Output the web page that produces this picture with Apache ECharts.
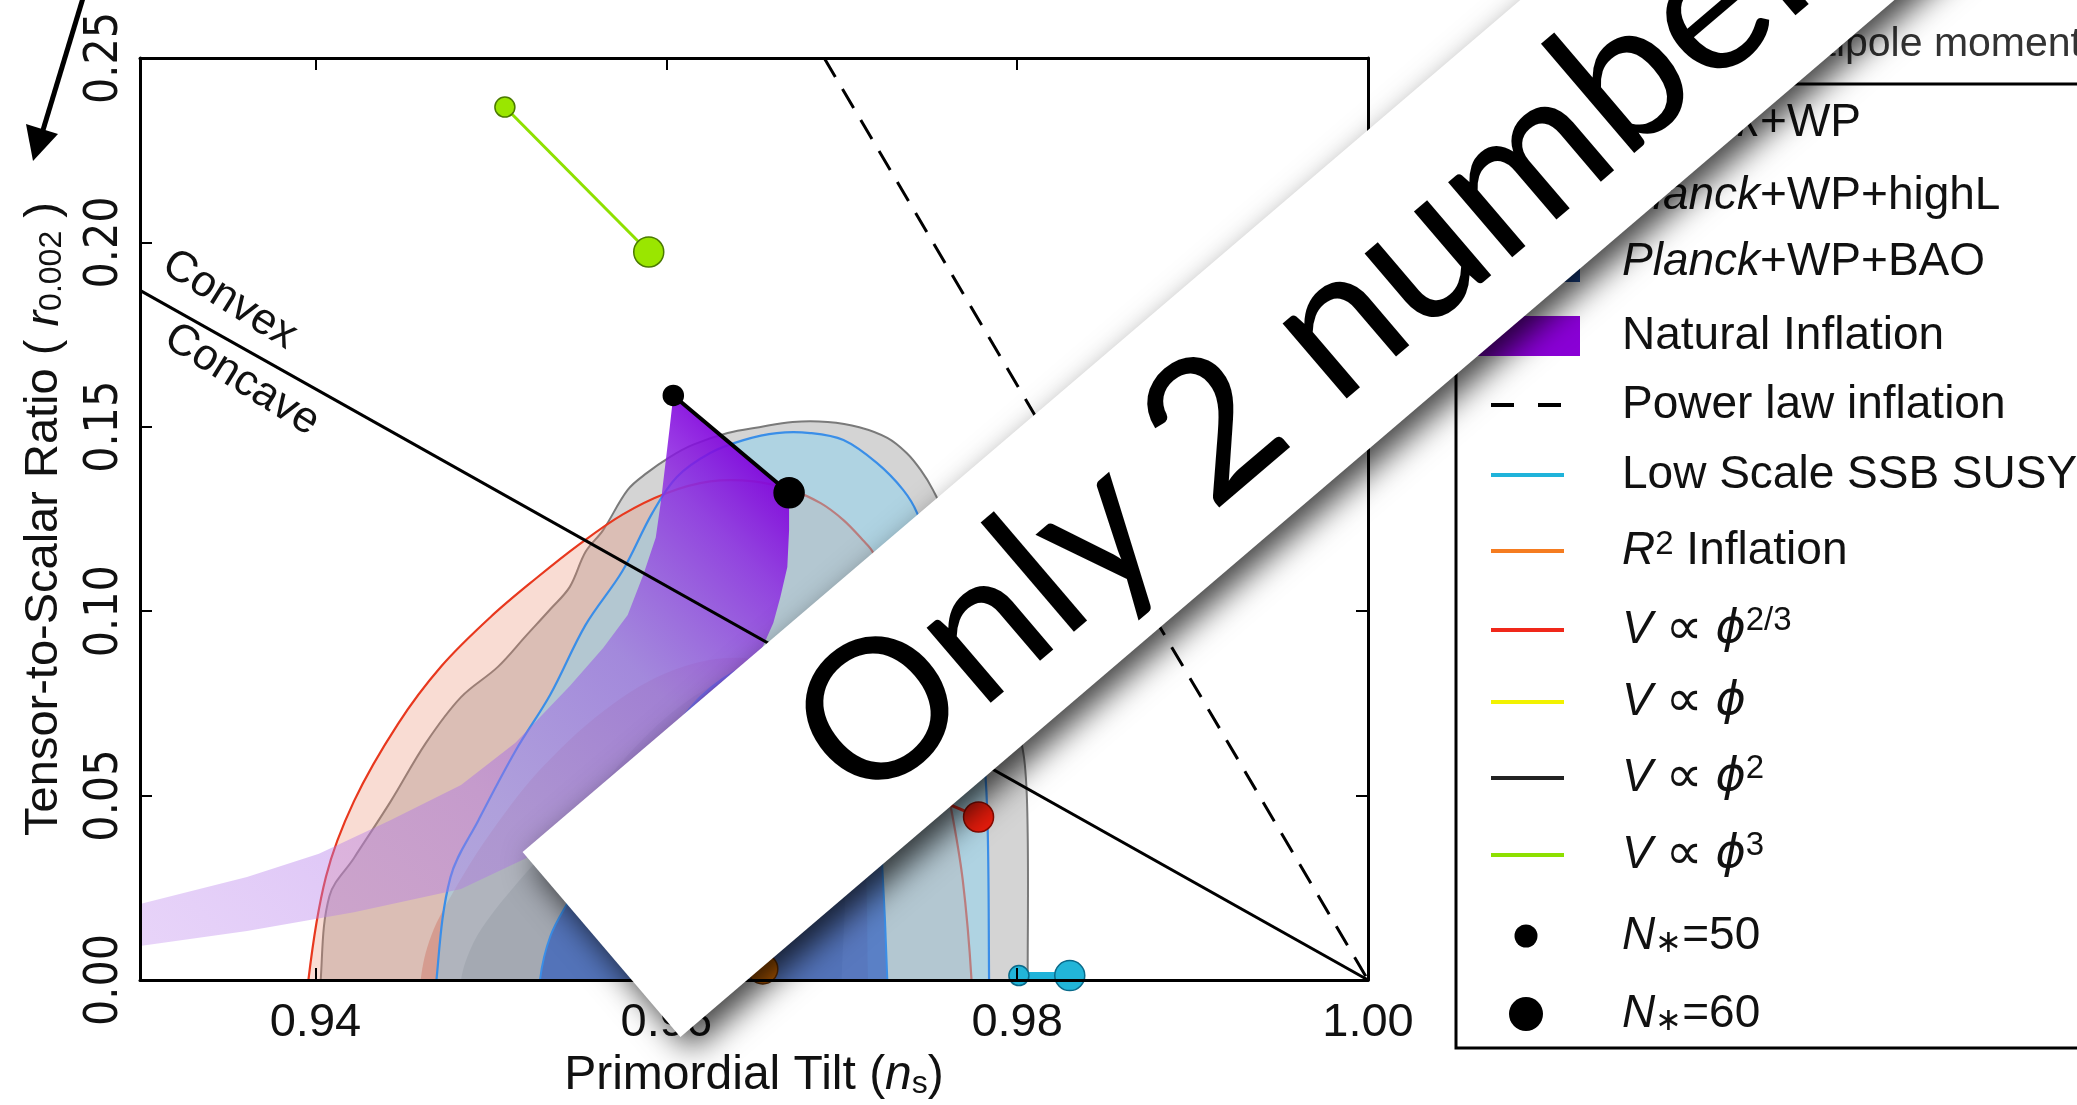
<!DOCTYPE html>
<html><head><meta charset="utf-8">
<script src="https://cdn.jsdelivr.net/npm/echarts@6/dist/echarts.min.js"></script>
<style>html,body{margin:0;padding:0;background:#fff;overflow:hidden}#c{width:2077px;height:1105px}</style>
</head><body><div id="c"></div>
<script>
// ---------------- data ----------------
const xTicks = [0.94, 0.96, 0.98, 1.00];
const yTicks = [0.00, 0.05, 0.10, 0.15, 0.20, 0.25];

// Planck+WP (grey) 95% / 68%
const planckWP95 = [[0.9403,0],[0.9408,0.0228],[0.9422,0.0331],[0.9443,0.0485],[0.9463,0.0643],[0.9483,0.0767],[0.9504,0.0849],[0.9520,0.0933],[0.9534,0.1006],[0.9545,0.1066],[0.9554,0.1161],[0.9564,0.1220],[0.9578,0.1329],[0.9589,0.1375],[0.9602,0.1418],[0.9615,0.1451],[0.9635,0.1483],[0.9653,0.1499],[0.9672,0.1513],[0.9692,0.1513],[0.9710,0.1499],[0.9726,0.1470],[0.9737,0.1429],[0.9745,0.1383],[0.9752,0.1329],[0.9770,0.1150],[0.9785,0.0950],[0.9797,0.0750],[0.9804,0.0600],[0.9806,0.0400],[0.9806,0]];
const planckWP68 = [[0.9483,0],[0.9490,0.0100],[0.9500,0.0175],[0.9520,0.0290],[0.9550,0.0450],[0.9580,0.0620],[0.9610,0.0750],[0.9640,0.0820],[0.9670,0.0800],[0.9690,0.0700],[0.9700,0.0500],[0.9702,0.0250],[0.9700,0]];
// Planck+WP+highL (red) 95% / 68%
const highL95 = [[0.9396,0],[0.9406,0.0280],[0.9422,0.0485],[0.9447,0.0694],[0.9472,0.0852],[0.9500,0.0985],[0.9526,0.1090],[0.9550,0.1180],[0.9575,0.1262],[0.9600,0.1320],[0.9625,0.1352],[0.9650,0.1352],[0.9671,0.1329],[0.9688,0.1293],[0.9701,0.1247],[0.9712,0.1193],[0.9718,0.1158],[0.9735,0.0950],[0.9750,0.0750],[0.9762,0.0474],[0.9769,0.0271],[0.9774,0]];
const highL68 = [[0.9460,0],[0.9466,0.0120],[0.9480,0.0250],[0.9500,0.0400],[0.9530,0.0580],[0.9570,0.0750],[0.9610,0.0850],[0.9650,0.0870],[0.9680,0.0800],[0.9700,0.0650],[0.9712,0.0400],[0.9715,0]];
// Planck+WP+BAO (blue) 95% / 68%
const bao95 = [[0.9469,0],[0.9477,0.0279],[0.9493,0.0434],[0.9514,0.0621],[0.9534,0.0775],[0.9554,0.0963],[0.9575,0.1109],[0.9592,0.1266],[0.9606,0.1364],[0.9625,0.1429],[0.9644,0.1464],[0.9663,0.1483],[0.9682,0.1483],[0.9701,0.1464],[0.9720,0.1402],[0.9735,0.1329],[0.9743,0.1266],[0.9760,0.1050],[0.9772,0.0850],[0.9780,0.0650],[0.9783,0.0450],[0.9784,0]];
const bao68 = [[0.9528,0],[0.9534,0.0120],[0.9545,0.0220],[0.9560,0.0350],[0.9580,0.0500],[0.9600,0.0650],[0.9620,0.0770],[0.9645,0.0850],[0.9670,0.0870],[0.9690,0.0820],[0.9710,0.0700],[0.9720,0.0500],[0.9723,0.0320],[0.9726,0]];

// Natural inflation band: N*=50 edge (left to tip) and N*=60 edge (tip to left)
const naturalN50 = [[0.9300,0.0206],[0.9361,0.0279],[0.9402,0.0342],[0.9443,0.0434],[0.9483,0.0529],[0.9514,0.0643],[0.9545,0.0797],[0.9564,0.0900],[0.9578,0.0990],[0.9587,0.1100],[0.9594,0.1200],[0.9597,0.1300],[0.9600,0.1420],[0.9602,0.1500],[0.9604,0.1585]];
const naturalN60 = [[0.9670,0.1321],[0.9670,0.1220],[0.9669,0.1120],[0.9665,0.1038],[0.9661,0.0968],[0.9650,0.0850],[0.9630,0.0720],[0.9600,0.0580],[0.9560,0.0440],[0.9520,0.0330],[0.9483,0.0247],[0.9422,0.0184],[0.9361,0.0133],[0.9300,0.0092]];

const powerLaw   = [[0.9690,0.25],[1.00,0]];
const convexLine = [[0.93,0.187],[1.00,0]];

// models: [N*=50, N*=60]
const phi3   = [[0.9508,0.2367],[0.9590,0.1974]];
const phi2   = [[0.9604,0.1585],[0.9670,0.1321]];
const phi1   = [[0.9700,0.0800],[0.9750,0.0667]];
const phi23  = [[0.9733,0.0533],[0.9778,0.0442]];
const r2Infl = [[0.9600,0.0045],[0.9655,0.0030]];
const susy   = [[0.9801,0.0012],[0.9830,0.0012]];

const convexLabel  = {text:'Convex',  at:[0.9351,0.1844]};
const concaveLabel = {text:'Concave', at:[0.9358,0.1627]};

const legendLabels = ['{i|Planck}+WP','{i|Planck}+WP+highL','{i|Planck}+WP+BAO','Natural Inflation','Power law inflation','Low Scale SSB SUSY','{i|R}{sup|2} Inflation','{i|V} {m|∝} {p|ϕ}{sup|2/3}','{i|V} {m|∝} {p|ϕ}','{i|V} {m|∝} {p|ϕ}{sup|2}','{i|V} {m|∝} {p|ϕ}{sup|3}','{i|N}{sub|∗}=50','{i|N}{sub|∗}=60'];
const legendKinds  = ['patch','patch','patch','patch','dash','line','line','line','line','line','line','dotS','dotL'];

// ---------------- styles / layout ----------------
const FONT = "'Liberation Sans', Arial, sans-serif";
const NARROW = "'Liberation Sans Narrow', 'DejaVu Sans Condensed', 'Liberation Sans', sans-serif";
const legendColors = ['#b4b4b4','#ee9a80','#1f4c9c','#8a00d6','#000','#1fb3da','#f57c20','#f0281a','#f2f200','#222','#8ee000','#000','#000'];
const LEG_Y = [123,196,262,336,405,475,551,630,702,778,855,936,1014];

function poly(name, pts, fill, stroke, lw, z, smooth) {
  let P = pts;
  if (smooth) P = [[pts[0][0], -0.012]].concat(pts, [[pts[pts.length-1][0], -0.012]]);
  return {type:'custom', name, coordinateSystem:'cartesian2d', z, silent:true, clip:true, animation:false,
    data:[pts[0]],
    renderItem:(params, api) => ({type:'polygon', shape:{points: P.map(p => api.coord(p)), smooth: smooth || 0},
      style:{fill, stroke: stroke || null, lineWidth: lw || 0}})
  };
}
function model(name, pts, lineColor, fill, border, lw) {
  return {type:'line', name, data: pts, z: 10, silent:true, animation:false,
    lineStyle:{color: lineColor, width: lw}, symbol:'circle', showSymbol:true,
    symbolSize:(v, p) => p.dataIndex === 0 ? 20 : 30,
    itemStyle:{color: fill, borderColor: border, borderWidth: 1.5}};
}
function label(obj) {
  return {type:'custom', coordinateSystem:'cartesian2d', z: 11, silent:true, animation:false,
    data:[obj.at],
    renderItem:(params, api) => { const c = api.coord(obj.at); return {type:'text', x:c[0], y:c[1], rotation:-32*Math.PI/180,
      style:{text: obj.text, fontSize: 44, fontFamily: FONT, fill:'#111', align:'center', verticalAlign:'middle'}}; }
  };
}

const naturalPoly = naturalN50.concat(naturalN60);
const purpleFill = {type:'linear', x:0, y:1, x2:0.85, y2:0, global:false, colorStops:[
  {offset:0, color:'rgba(190,135,238,0.36)'},
  {offset:0.45, color:'rgba(170,112,232,0.45)'},
  {offset:0.7, color:'rgba(150,88,228,0.56)'},
  {offset:0.9, color:'rgba(138,35,226,0.80)'},
  {offset:1, color:'rgba(128,0,220,0.92)'}]};

const series = [
  poly('Planck+WP 95', planckWP95, 'rgba(128,128,128,0.34)', '#7a7a7a', 2, 1, 0.35),
  poly('Planck+WP 68', planckWP68, 'rgba(70,70,85,0.30)', null, 0, 2, 0.35),
  poly('highL 95', highL95, 'rgba(235,140,110,0.30)', '#e8381e', 2.2, 3, 0.35),
  poly('highL 68', highL68, 'rgba(200,80,60,0.30)', null, 0, 4, 0.35),
  poly('BAO 95', bao95, 'rgba(130,210,245,0.45)', '#3a8ee8', 2.2, 5, 0.35),
  poly('BAO 68', bao68, 'rgba(30,80,190,0.60)', '#3a8ee8', 2, 6, 0.35),
  poly('Natural Inflation', naturalPoly, purpleFill, null, 0, 8, 0),
  {type:'line', name:'Convex', data: convexLine, z:9, symbol:'none', silent:true, animation:false, lineStyle:{color:'#000', width:3}},
  {type:'line', name:'Power law', data: powerLaw, z:9, symbol:'none', silent:true, animation:false, lineStyle:{color:'#000', width:3, type:[22,14]}},
  model('R2', r2Infl, '#f57c20', '#c86400', '#6a3000', 4),
  model('SUSY', susy, '#1fb3da', '#22b5d8', '#0a6a8a', 7),
  model('phi23', phi23, '#f0281a', '#e81c0c', '#8a0a00', 3),
  model('phi1', phi1, '#f2f200', '#f2f200', '#8a8a00', 3),
  model('phi2', phi2, '#000', '#000', '#000', 4),
  model('phi3', phi3, '#8ee000', '#9ae600', '#4a7a00', 3),
  label(convexLabel), label(concaveLabel)
];

// legend graphics
const richMath = {
  i:{fontStyle:'italic', fontSize:46, fontFamily:FONT, fill:'#111', color:'#111'},
  p:{fontStyle:'italic', fontSize:46, fontFamily:"'DejaVu Sans', sans-serif", fill:'#111', color:'#111'},
  m:{fontSize:52, fontFamily:"'DejaVu Sans', sans-serif", fill:'#111', color:'#111'},
  sup:{fontSize:33, fontFamily:FONT, verticalAlign:'top', fill:'#111', color:'#111'},
  sub:{fontSize:32, fontFamily:FONT, verticalAlign:'bottom', fill:'#111', color:'#111'}
};
const legendEls = [{type:'rect', z:30, shape:{x:1456, y:84, width:700, height:964}, style:{fill:'#fff', stroke:'#000', lineWidth:3}}];
legendLabels.forEach((t, k) => {
  const y = LEG_Y[k], col = legendColors[k], kind = legendKinds[k];
  if (kind === 'patch') legendEls.push({type:'rect', z:31, shape:{x:1477, y:y-20, width:103, height:40}, style:{fill:col}});
  if (kind === 'line') legendEls.push({type:'line', z:31, shape:{x1:1491, y1:y, x2:1564, y2:y}, style:{stroke:col, lineWidth:4}});
  if (kind === 'dash') { legendEls.push({type:'line', z:31, shape:{x1:1491, y1:y, x2:1514, y2:y}, style:{stroke:col, lineWidth:4}});
                         legendEls.push({type:'line', z:31, shape:{x1:1538, y1:y, x2:1561, y2:y}, style:{stroke:col, lineWidth:4}}); }
  if (kind === 'dotS') legendEls.push({type:'circle', z:31, shape:{cx:1526, cy:y, r:11.5}, style:{fill:col}});
  if (kind === 'dotL') legendEls.push({type:'circle', z:31, shape:{cx:1526, cy:y, r:17}, style:{fill:col}});
  legendEls.push({type:'text', z:31, style:{text:t, x:1622, y:y, fontSize:46, fontFamily:FONT, fill:'#111', align:'left', verticalAlign:'middle', rich:richMath}});
});

const graphics = legendEls.concat([
  {type:'text', z:29, style:{text:'Multipole moment', x:2082, y:24, fontSize:41, fontFamily:FONT, fill:'#333', align:'right', verticalAlign:'alphabetic'}},
  {type:'line', z:40, shape:{x1:83, y1:-2, x2:40, y2:140}, style:{stroke:'#000', lineWidth:5}},
  {type:'polygon', z:40, shape:{points:[[33,161],[26,124],[58,134]]}, style:{fill:'#000'}},
  {type:'group', x:601.5, y:944.5, rotation:40.5*Math.PI/180, z:100, children:[
    {type:'rect', z:100, shape:{x:0, y:-121.5, width:2600, height:243},
      style:{fill:'#fff', shadowBlur:32, shadowColor:'rgba(0,0,0,0.75)', shadowOffsetX:10, shadowOffsetY:12}},
    {type:'text', z:101, style:{text:'Only 2 numbers', x:285, y:6, fontSize:195, fontFamily:"Lato, 'Open Sans', sans-serif", fill:'#000', align:'left', verticalAlign:'middle'}}
  ]}
]);

const axisBase = {type:'value', min:0.93, max:1.0, z:20, splitLine:{show:false},
  axisLine:{show:true, onZero:false, lineStyle:{color:'#000', width:3}},
  axisTick:{show:true, inside:true, length:12, customValues:xTicks, lineStyle:{color:'#000', width:2}}};
const yBase = {type:'value', min:0, max:0.25, interval:0.05, z:20, splitLine:{show:false},
  axisLine:{show:true, onZero:false, lineStyle:{color:'#000', width:3}},
  axisTick:{show:true, inside:true, length:12, customValues:yTicks, lineStyle:{color:'#000', width:2}}};

const option = {
  animation:false,
  backgroundColor:'#fff',
  grid:{left:140, top:58, right:709, bottom:125, containLabel:false},
  xAxis:[
    Object.assign({}, axisBase, {position:'bottom',
      axisLabel:{show:true, customValues:xTicks, formatter:v => v.toFixed(2), fontFamily:FONT, fontSize:47, color:'#111', margin:20},
      name:'{n|Primordial Tilt (}{i|n}{s|s}{n|)}', nameLocation:'middle', nameGap:64,
      nameTextStyle:{rich:{n:{fontFamily:FONT, fontSize:48, color:'#111'}, i:{fontFamily:FONT, fontSize:48, fontStyle:'italic', color:'#111'}, s:{fontFamily:FONT, fontSize:32, color:'#111', verticalAlign:'bottom'}}}}),
    Object.assign({}, axisBase, {position:'top', axisLabel:{show:false}})
  ],
  yAxis:[
    Object.assign({}, yBase, {position:'left',
      axisLabel:{show:true, rotate:90, customValues:yTicks, formatter:v => v.toFixed(2), fontFamily:NARROW, fontSize:46, color:'#111', margin:12},
      name:'{n|Tensor-to-Scalar Ratio ( }{i|r}{s|0.002}{n| )}', nameLocation:'middle', nameGap:72, nameRotate:90,
      nameTextStyle:{rich:{n:{fontFamily:FONT, fontSize:47, color:'#111'}, i:{fontFamily:FONT, fontSize:47, fontStyle:'italic', color:'#111'}, s:{fontFamily:FONT, fontSize:32, color:'#111', verticalAlign:'bottom'}}}}),
    Object.assign({}, yBase, {position:'right', axisLabel:{show:false}})
  ],
  series: series,
  graphic: graphics
};
const chart = echarts.init(document.getElementById('c'));
chart.setOption(option);
</script>
</body></html>
